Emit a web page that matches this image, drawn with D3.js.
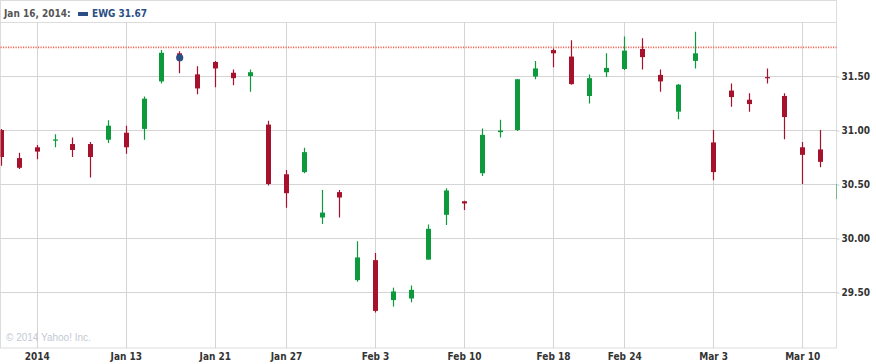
<!DOCTYPE html>
<html><head><meta charset="utf-8">
<script src="https://cdn.jsdelivr.net/npm/d3@7"></script>
<style>
html,body{margin:0;padding:0;background:#fff;}
svg{display:block;}
</style></head>
<body>
<svg id="chart" width="876" height="364"></svg>
<script>
const dates = ["Jan 2","Jan 3","Jan 6","Jan 7","Jan 8","Jan 9","Jan 10","Jan 13","Jan 14","Jan 15","Jan 16","Jan 17",
"Jan 21","Jan 22","Jan 23","Jan 24","Jan 27","Jan 28","Jan 29","Jan 30","Jan 31",
"Feb 3","Feb 4","Feb 5","Feb 6","Feb 7","Feb 10","Feb 11","Feb 12","Feb 13","Feb 14",
"Feb 18","Feb 19","Feb 20","Feb 21","Feb 24","Feb 25","Feb 26","Feb 27","Feb 28",
"Mar 3","Mar 4","Mar 5","Mar 6","Mar 7","Mar 10","Mar 11","Mar 12"];
const open  = [31.00,30.74,30.84,30.905,30.87,30.87,30.91,30.975,31.01,31.45,31.71,31.515,
31.63,31.53,31.50,31.05,30.59,30.61,30.19,30.425,29.61,
29.795,29.425,29.44,29.80,30.215,30.34,30.60,30.98,31.00,31.495,
31.74,31.68,31.315,31.535,31.565,31.75,31.51,31.17,31.64,
30.885,31.365,31.28,31.49,31.315,30.84,30.82,30.36];
const high  = [31.01,30.79,30.86,30.96,30.93,30.89,31.09,31.04,31.31,31.74,31.73,31.59,
31.64,31.56,31.56,31.085,30.63,30.835,30.445,30.445,29.97,
29.86,29.54,29.56,30.125,30.46,30.345,31.015,31.095,31.47,31.64,
31.755,31.83,31.515,31.71,31.865,31.85,31.56,31.425,31.91,
31.00,31.43,31.34,31.57,31.34,30.89,31.00,30.50];
const low   = [30.67,30.64,30.73,30.84,30.75,30.56,30.88,30.78,30.91,31.43,31.525,31.33,
31.395,31.415,31.355,30.485,30.28,30.60,30.13,30.19,29.595,
29.31,29.365,29.405,29.80,30.12,30.26,30.575,30.93,30.99,31.47,
31.58,31.42,31.245,31.49,31.555,31.56,31.355,31.10,31.57,
30.535,31.215,31.17,31.43,30.915,30.50,30.655,30.36];
const close = [30.75,30.65,30.80,30.912,30.815,30.75,31.04,30.84,31.29,31.715,31.67,31.385,
31.57,31.48,31.535,30.50,30.415,30.795,30.235,30.375,29.82,
29.325,29.505,29.52,30.085,30.44,30.32,30.955,30.995,31.47,31.57,
31.71,31.425,31.48,31.575,31.735,31.675,31.45,31.42,31.71,
30.61,31.305,31.24,31.48,31.12,30.77,30.705,30.50];

const xTickIndex  = [2,7,12,16,21,26,31,35,40,45];
const xTickLabels = ["2014","Jan 13","Jan 21","Jan 27","Feb 3","Feb 10","Feb 18","Feb 24","Mar 3","Mar 10"];
const yTickValues = [29.5,30.0,30.5,31.0,31.5];
const refLevel = 31.765;
const hoverIndex = 10;
const hoverLabel = "Jan 16, 2014:";
const seriesName = "EWG";

const plot = {left:0.5, right:836.5, top:22.5, bottom:348};
const svg = d3.select("#chart");

const x = d3.scaleLinear().domain([0, dates.length-1]).range([1.2, 1.2 + 17.8*(dates.length-1)]);
const y = d3.scaleLinear().domain([29, 32]).range([346, 22]);

const RED = "#a6122b", GREEN = "#0c9a3c", GRID = "#d4d4d4";
const FONT = "'DejaVu Sans Condensed','DejaVu Sans',sans-serif";

svg.append("defs").append("clipPath").attr("id","clip")
  .append("rect").attr("x",plot.left).attr("y",plot.top).attr("width",plot.right-plot.left).attr("height",plot.bottom-plot.top);

// outer frame
svg.append("rect").attr("x",0.5).attr("y",0.5).attr("width",836).attr("height",347.5)
  .attr("fill","none").attr("stroke","#dcdcdc");
svg.append("line").attr("x1",0.5).attr("x2",836.5).attr("y1",22.5).attr("y2",22.5).attr("stroke","#dcdcdc");

// horizontal grid
svg.append("g").selectAll("line").data(yTickValues).join("line")
  .attr("x1",plot.left).attr("x2",plot.right)
  .attr("y1",d=>Math.round(y(d))+0.5).attr("y2",d=>Math.round(y(d))+0.5)
  .attr("stroke",GRID);
// vertical grid
svg.append("g").selectAll("line").data(xTickIndex).join("line")
  .attr("x1",d=>Math.round(x(d))+0.5).attr("x2",d=>Math.round(x(d))+0.5)
  .attr("y1",plot.top).attr("y2",plot.bottom)
  .attr("stroke",GRID);

// right axis
const yAxis = d3.axisRight(y).tickValues(yTickValues).tickFormat(d3.format(".2f")).tickSize(3).tickPadding(2);
const gy = svg.append("g").attr("transform",`translate(${plot.right},0.5)`).call(yAxis);
gy.select(".domain").remove();
gy.selectAll(".tick line").attr("stroke","#cfcfcf");
gy.selectAll("text").attr("font-family",FONT).attr("font-weight","bold").attr("font-size","10px").attr("fill","#333");

// bottom axis
const xAxis = d3.axisBottom(x).tickValues(xTickIndex).tickFormat((d,i)=>xTickLabels[i]).tickSize(0).tickPadding(5);
const gx = svg.append("g").attr("transform",`translate(0,${plot.bottom})`).call(xAxis);
gx.select(".domain").remove();
gx.selectAll("text").attr("font-family",FONT).attr("font-weight","bold").attr("font-size","10px").attr("fill","#333");
gx.selectAll(".tick").each(function(d){
  const t = d3.select(this).select("text");
  const w = this.querySelector("text").getComputedTextLength();
  if (x(d) - w/2 < 4) t.attr("text-anchor","start").attr("x", 4 - x(d));
});

// copyright
svg.append("text").attr("x",6).attr("y",341).attr("font-family","'Liberation Sans',Arial,sans-serif")
  .attr("font-size","10px").attr("fill","#c3cad3").text("© 2014 Yahoo! Inc.");

// reference dotted line
svg.append("line").attr("x1",plot.left).attr("x2",plot.right)
  .attr("y1",y(refLevel)).attr("y2",y(refLevel))
  .attr("stroke","#ee6a5a").attr("stroke-width",1.6).attr("stroke-dasharray","1.2,1.3");

// candles
const data = dates.map((d,i)=>({d, i, o:open[i], h:high[i], l:low[i], c:close[i]}));
const g = svg.append("g").attr("clip-path","url(#clip)");
const cg = g.selectAll("g.c").data(data).join("g").attr("class","c");
cg.append("line")
  .attr("x1",d=>Math.round(x(d.i))+0.5).attr("x2",d=>Math.round(x(d.i))+0.5)
  .attr("y1",d=>y(d.h)).attr("y2",d=>y(d.l))
  .attr("stroke",d=>d.c>=d.o?GREEN:RED).attr("stroke-width",1.2);
cg.append("rect")
  .attr("x",d=>Math.round(x(d.i))-2).attr("width",5)
  .attr("y",d=>y(Math.max(d.o,d.c)))
  .attr("height",d=>Math.max(1.2, y(Math.min(d.o,d.c))-y(Math.max(d.o,d.c))))
  .attr("fill",d=>d.c>=d.o?GREEN:RED);

// hover dot
const hd = data[hoverIndex];
svg.append("circle").attr("cx",x(hd.i)+0.5).attr("cy",y(hd.c)).attr("r",3.6).attr("fill","#2b4f84");

// header legend
svg.append("text").attr("x",4).attr("y",16.5).attr("font-family",FONT).attr("font-weight","bold").attr("font-size","10px")
  .attr("fill","#555").text(hoverLabel);
svg.append("rect").attr("x",78).attr("y",12).attr("width",10).attr("height",4).attr("fill","#2b4f84");
svg.append("text").attr("x",92).attr("y",16.5).attr("font-family",FONT).attr("font-weight","bold").attr("font-size","10px")
  .attr("fill","#2b4f84").text(`${seriesName} ${d3.format(".2f")(hd.c)}`);
</script>
</body></html>
